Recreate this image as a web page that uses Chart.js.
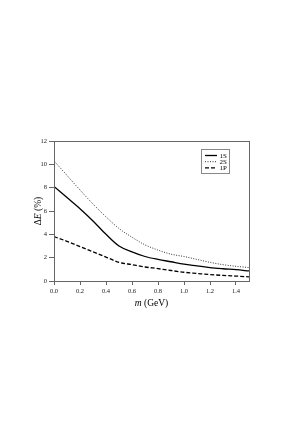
<!DOCTYPE html>
<html>
<head>
<meta charset="utf-8">
<script src="https://cdn.jsdelivr.net/npm/chart.js@4/dist/chart.umd.min.js"></script>
<style>
  html, body { margin: 0; padding: 0; background: #fff; }
  #wrap { width: 306px; height: 436px; }
</style>
</head>
<body>
<div id="wrap"><canvas id="myChart" width="306" height="436"></canvas></div>
<script>
const masses = [0, 0.1, 0.2, 0.3, 0.4, 0.5, 0.6, 0.7, 0.8, 0.9, 1.0, 1.1, 1.2, 1.3, 1.4, 1.5];
const shift1S = [8.1, 7.15, 6.2, 5.15, 4.0, 3.0, 2.5, 2.1, 1.85, 1.65, 1.45, 1.3, 1.15, 1.05, 0.97, 0.86];
const shift2S = [10.3, 9.05, 7.8, 6.6, 5.5, 4.5, 3.75, 3.1, 2.65, 2.3, 2.1, 1.85, 1.6, 1.4, 1.26, 1.15];
const shift1P = [3.8, 3.4, 2.95, 2.5, 2.05, 1.6, 1.4, 1.2, 1.06, 0.9, 0.75, 0.65, 0.55, 0.48, 0.42, 0.36];
const seriesNames = ['1S', '2S', '1P'];
const xTicks = [0, 0.2, 0.4, 0.6, 0.8, 1.0, 1.2, 1.4];

const serif = '"Liberation Serif", "DejaVu Serif", serif';
const pts = arr => arr.map((v, i) => ({x: masses[i], y: v}));

// frame, axis titles with italic parts, and the boxed legend
const extras = {
    id: 'extras',
    afterDraw(chart) {
        const c = chart.ctx;
        const a = chart.chartArea;
        c.save();
        c.strokeStyle = '#666';
        c.lineWidth = 1;
        c.strokeRect(Math.round(a.left) + 0.5, Math.round(a.top) + 0.5,
            Math.round(a.right - a.left), Math.round(a.bottom - a.top));

        // x title: m (GeV)
        c.fillStyle = '#000';
        c.textBaseline = 'alphabetic';
        const xmid = (a.left + a.right) / 2;
        c.font = 'italic 9.5px ' + serif;
        const w1 = c.measureText('m').width;
        c.font = '9.5px ' + serif;
        const w2 = c.measureText(' (GeV)').width;
        let x0 = xmid - (w1 + w2) / 2;
        c.textAlign = 'left';
        c.font = 'italic 9.5px ' + serif;
        c.fillText('m', x0, 306);
        c.font = '9.5px ' + serif;
        c.fillText(' (GeV)', x0 + w1, 306);

        // y title: ΔE (%)
        c.save();
        c.translate(41, (a.top + a.bottom) / 2);
        c.rotate(-Math.PI / 2);
        c.font = '9.5px ' + serif;
        const p1 = c.measureText('Δ').width;
        const p3 = c.measureText(' (%)').width;
        c.font = 'italic 9.5px ' + serif;
        const p2 = c.measureText('E').width;
        let s = -(p1 + p2 + p3) / 2;
        c.font = '9.5px ' + serif;
        c.fillText('Δ', s, 0);
        c.font = 'italic 9.5px ' + serif;
        c.fillText('E', s + p1, 0);
        c.font = '9.5px ' + serif;
        c.fillText(' (%)', s + p1 + p2, 0);
        c.restore();

        // legend
        const lx = 201.5, ly = 149.5, lw = 28, lh = 24;
        c.fillStyle = '#fff';
        c.fillRect(lx, ly, lw, lh);
        c.strokeStyle = '#888';
        c.strokeRect(lx, ly, lw, lh);
        c.font = '7px ' + serif;
        c.textBaseline = 'middle';
        chart.data.datasets.forEach((ds, i) => {
            const yy = 155.5 + i * 6.2;
            c.beginPath();
            c.setLineDash(ds.borderDash || []);
            c.strokeStyle = ds.borderColor;
            c.lineWidth = ds.borderWidth;
            c.moveTo(205, yy);
            c.lineTo(217, yy);
            c.stroke();
            c.setLineDash([]);
            c.fillStyle = '#000';
            c.fillText(ds.label, 219.5, yy + 0.5);
        });
        c.restore();
    }
};

const ctx = document.getElementById('myChart').getContext('2d');
const chart = new Chart(ctx, {
    type: 'line',
    data: {
        datasets: [
            {label: seriesNames[0], data: pts(shift1S), borderColor: '#000', borderWidth: 1.3, borderDash: []},
            {label: seriesNames[1], data: pts(shift2S), borderColor: '#333', borderWidth: 1, borderDash: [1, 1.5]},
            {label: seriesNames[2], data: pts(shift1P), borderColor: '#000', borderWidth: 1.3, borderDash: [4, 2]}
        ]
    },
    plugins: [extras],
    options: {
        responsive: false,
        animation: false,
        layout: {padding: {left: 0, top: 141, right: 57, bottom: 135}},
        elements: {
            point: {radius: 0},
            line: {cubicInterpolationMode: 'monotone', fill: false}
        },
        plugins: {legend: {display: false}, tooltip: {enabled: false}},
        scales: {
            x: {
                type: 'linear',
                min: 0,
                max: 1.5,
                afterFit: s => { s.height = 20; },
                afterBuildTicks: s => { s.ticks = xTicks.map(v => ({value: v})); },
                grid: {drawOnChartArea: false, tickLength: 4, color: '#666'},
                border: {color: '#666'},
                ticks: {
                    font: {family: serif, size: 6.5},
                    color: '#222',
                    padding: 2,
                    maxRotation: 0,
                    callback: v => v.toFixed(1)
                }
            },
            y: {
                min: 0,
                max: 12,
                afterFit: s => { s.width = 54; },
                grid: {drawOnChartArea: false, tickLength: 5, color: '#666'},
                border: {color: '#666'},
                ticks: {
                    stepSize: 2,
                    font: {family: serif, size: 6.5},
                    color: '#222',
                    padding: 2
                }
            }
        }
    }
});
</script>
</body>
</html>
